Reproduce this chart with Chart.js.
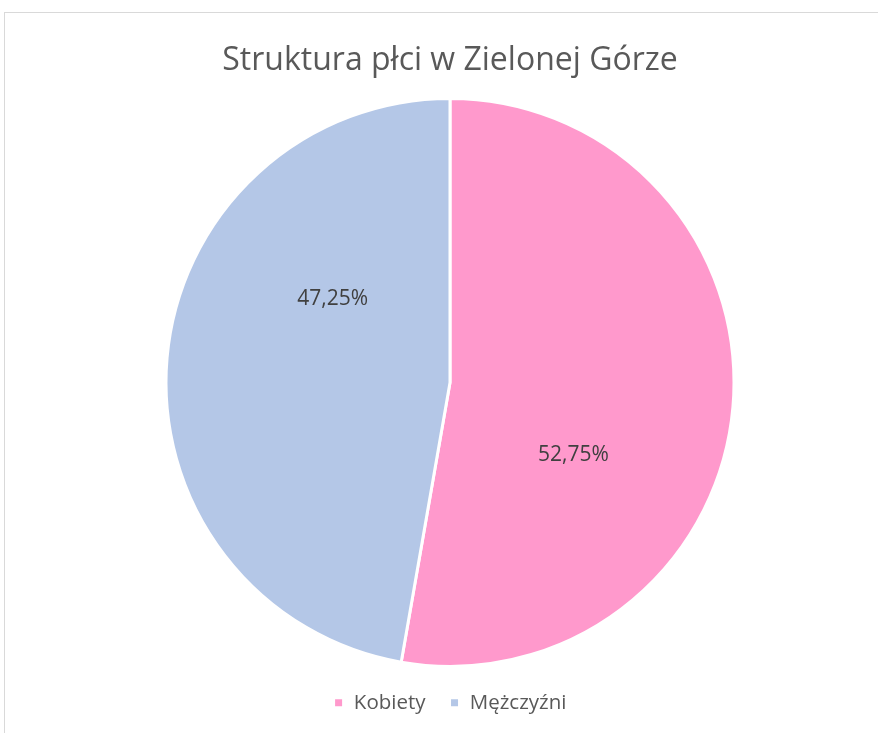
<!DOCTYPE html>
<html>
<head>
<meta charset="utf-8">
<script src="https://cdn.jsdelivr.net/npm/chart.js@4"></script>
<style>
  html, body { margin: 0; padding: 0; background: #fff; }
  #wrap { position: relative; width: 878px; height: 733px; overflow: hidden; }
  #frame { position: absolute; left: 4px; top: 12px; width: 900px; height: 800px;
           border-top: 1px solid #d9d9d9; border-left: 1px solid #d9d9d9; }
  canvas { position: absolute; left: 0; top: 0; }
</style>
</head>
<body>
<div id="wrap">
  <div id="frame"></div>
  <canvas id="pie" width="878" height="733"></canvas>
</div>
<script>
'use strict';

// --- dane ---
const LABELS = ['Kobiety', 'Mężczyźni'];
const SHARES = [52.75, 47.25];
const COLORS = ['#ff99cc', '#b4c7e7'];
const TITLE = 'Struktura płci w Zielonej Górze';

const FONT = "'Open Sans', 'Noto Sans', sans-serif";

// etykiety procentowe wewnątrz wycinków
const pieLabels = {
  id: 'pieLabels',
  afterDatasetsDraw(chart) {
    const { ctx } = chart;
    const meta = chart.getDatasetMeta(0);
    ctx.save();
    ctx.font = '21px ' + FONT;
    ctx.fillStyle = '#404040';
    ctx.textAlign = 'center';
    ctx.textBaseline = 'middle';
    meta.data.forEach((arc, i) => {
      const p = arc.getProps(['x', 'y', 'startAngle', 'endAngle', 'outerRadius'], true);
      const a = (p.startAngle + p.endAngle) / 2 + 28 * Math.PI / 180;
      const r = p.outerRadius * 0.505;
      const txt = SHARES[i].toFixed(2).replace('.', ',') + '%';
      ctx.fillText(txt, p.x + Math.cos(a) * r + 3, p.y + Math.sin(a) * r - 5);
    });
    ctx.restore();
  },
};

const ctx = document.getElementById('pie').getContext('2d');
new Chart(ctx, {
  type: 'pie',
  data: {
    labels: LABELS,
    datasets: [{
      data: SHARES,
      backgroundColor: COLORS,
      borderColor: '#ffffff',
      borderWidth: 3,
      radius: 284,
    }],
  },
  options: {
    responsive: false,
    animation: false,
    layout: { padding: { left: 22, top: 12, bottom: 10 } },
    plugins: {
      title: {
        display: true,
        text: TITLE,
        color: '#595959',
        font: { family: FONT, size: 32, weight: 'normal' },
        padding: { top: 30, bottom: 16 },
      },
      legend: {
        position: 'bottom',
        labels: {
          color: '#595959',
          font: { family: FONT, size: 20.5 },
          boxWidth: 10,
          boxHeight: 10,
          padding: 24,
        },
      },
      tooltip: { enabled: false },
    },
  },
  plugins: [pieLabels],
});
</script>
</body>
</html>
